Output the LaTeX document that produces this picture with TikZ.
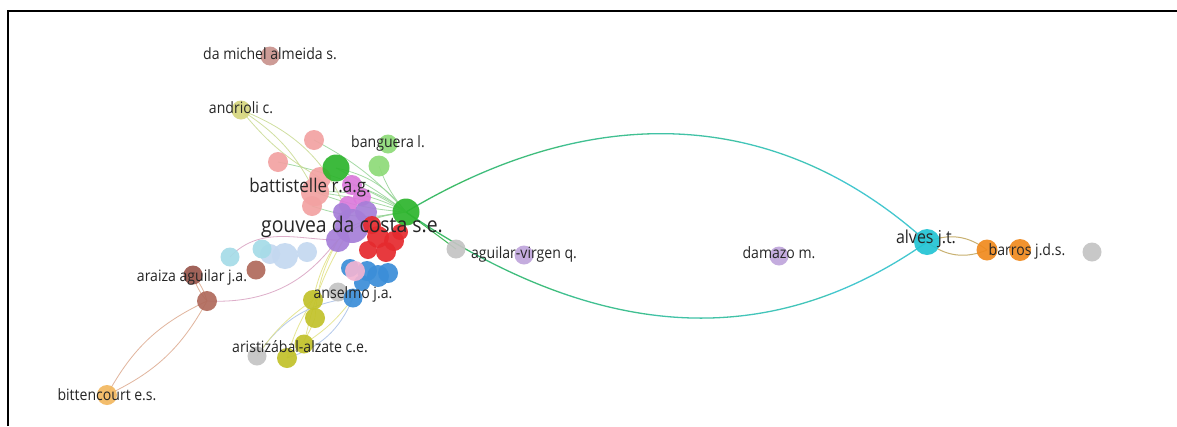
\documentclass[tikz,border=0pt]{standalone}
\usepackage{fontspec}
\setmainfont{Open Sans}
\begin{document}
\begin{tikzpicture}[x=1pt,y=-1pt]
\definecolor{cDM}{HTML}{C9938E}
\definecolor{cAN}{HTML}{D6D67E}
\definecolor{cPK}{HTML}{F2A2A2}
\definecolor{cGL}{HTML}{8EDB78}
\definecolor{cGD}{HTML}{2DB52D}
\definecolor{cMG}{HTML}{DC7ADC}
\definecolor{cPU}{HTML}{A67ED8}
\definecolor{cRD}{HTML}{E52A2E}
\definecolor{cLB}{HTML}{C4D8F0}
\definecolor{cCL}{HTML}{A6DCE8}
\definecolor{cBR}{HTML}{B06A5C}
\definecolor{cBD}{HTML}{9A564C}
\definecolor{cBL}{HTML}{3B8ED8}
\definecolor{cLP}{HTML}{F2B4D2}
\definecolor{cGY}{HTML}{C4C4C4}
\definecolor{cYE}{HTML}{C2C22A}
\definecolor{cOL}{HTML}{F2B860}
\definecolor{cCY}{HTML}{22C4D4}
\definecolor{cOR}{HTML}{F08A1E}
\definecolor{cLV}{HTML}{C0A6DC}
\definecolor{eG}{HTML}{3CB854}
\definecolor{eC}{HTML}{44C8D4}
\definecolor{eLG}{HTML}{96D496}
\definecolor{eYG}{HTML}{C8DA90}
\definecolor{eBO}{HTML}{DCA88C}
\definecolor{ePK}{HTML}{D8A0C0}
\definecolor{eYE}{HTML}{E2E282}
\definecolor{eBL}{HTML}{A8C0E8}
\definecolor{eBA}{HTML}{C8B070}
\tikzset{
  ball/.style 2 args={circle,inner sep=0pt,minimum size=#1,fill=#2,fill opacity=0.92},
  lbl/.style={font=\fontsize{14.5}{15}\selectfont,text=black!85,inner sep=0pt,xscale=0.97,yscale=1.08},
  edge/.style={line width=0.8pt,draw=eLG,opacity=0.85},
}
\useasboundingbox (0,0) rectangle (1177,426);
\fill[white] (0,0) rectangle (1177,426);
\draw[line width=2pt,black] (8,426) -- (8,11) -- (1177,11);

% ---- nodes (positions) ----
\coordinate (Pdma) at (270,56);
\coordinate (Pand) at (241,110);
\coordinate (Ppk1) at (314,140);
\coordinate (Ppk2) at (278,162);
\coordinate (Pban) at (388,144);
\coordinate (Pgl2) at (379,166);
\coordinate (Pgd1) at (336,168);
\coordinate (Ppk4) at (320,178);
\coordinate (Ppk3) at (315,192);
\coordinate (Ppk5) at (312,206);
\coordinate (Pmg1) at (352,185);
\coordinate (Pmg2) at (348,205);
\coordinate (Pmg3) at (362,197);
\coordinate (Pgd2) at (406,212);
\coordinate (Ppu1) at (352,226);
\coordinate (Ppu2) at (338,240);
\coordinate (Ppu3) at (366,212);
\coordinate (Ppu4) at (342,212);
\coordinate (Pgy3) at (456,249);
\coordinate (Palv) at (927,242);

% ---- edges ----
\begin{scope}
\foreach \i/\a/\b in {0/0/380,1/380/470,2/470/560,3/560/650,4/650/740,5/740/830,6/830/1177}{
  \pgfmathsetmacro{\mix}{100-\i*16}
  \begin{scope}
    \clip (\a,0) rectangle (\b,426);
    \draw[line width=1.3pt,draw=eG!\mix!eC] (Pgd2) .. controls (588,103) and (773,103) .. (Palv);
    \draw[line width=1.3pt,draw=eG!\mix!eC] (Pgd2) .. controls (606,348) and (776,348) .. (Palv);
  \end{scope}
}
\end{scope}
\draw[line width=1pt,draw=eG] (Pgd2) -- (Pgy3);

\draw[edge] (Pgd1) to[bend left=20] (Pgd2);
\draw[edge] (Pgd1) to[bend left=5] (Pgd2);
\draw[edge] (Ppk3) to[bend left=15] (Pgd2);
\draw[edge] (Ppk3) to[bend left=5] (Pgd2);
\draw[edge] (Ppk3) to[bend right=8] (Pgd2);
\draw[edge] (Ppk5) to[bend right=15] (Pgd2);
\draw[edge] (Ppk2) to[bend left=10] (Pgd2);
\draw[edge] (Ppk1) to[bend left=10] (Pgd2);
\draw[edge] (Pgl2) to[bend right=10] (Pgd2);
\draw[edge] (Pmg1) to[bend left=10] (Pgd2);
\draw[edge] (Ppu1) to[bend left=8] (Pgd2);
\draw[edge] (Ppu2) to[bend left=15] (Pgd2);
\draw[edge,draw=eYG] (Pand) to[bend left=15] (Ppk3);
\draw[edge,draw=eYG] (Pand) to[bend left=25] (Ppu1);
\draw[edge,draw=eYG] (Pand) to[bend right=10] (Ppk4);

\coordinate (Par1) at (193,275);
\coordinate (Par2) at (207,301);
\coordinate (Pbit) at (107,395);
\coordinate (Pcl1) at (230,257);
\coordinate (Py1) at (313,300);
\coordinate (Py2) at (315,318);
\coordinate (Py3) at (304,344);
\coordinate (Py4) at (287,358);
\coordinate (Pgy2) at (257,356);
\coordinate (Pb6) at (353,298);
\coordinate (Pba1) at (987,250);

\draw[edge,draw=eBO] (Par2) to[bend right=18] (Pbit);
\draw[edge,draw=eBO] (Par2) to[bend left=18] (Pbit);
\draw[edge,draw=eBO] (Par1) to[bend left=12] (Par2);
\draw[edge,draw=eBO] (Par1) to[bend right=12] (Par2);
\draw[edge,draw=ePK] (Par2) .. controls (290,305) and (320,260) .. (Ppu2);
\draw[edge,draw=ePK] (Pcl1) .. controls (260,225) and (300,240) .. (Ppu2);
\draw[edge,draw=eYE] (Py1) to[bend left=10] (Ppu2);
\draw[edge,draw=eYE] (Py2) to[bend left=12] (Ppu2);
\draw[edge,draw=eYE] (Py3) to[bend left=10] (Ppu1);
\draw[edge,draw=eYE] (Py4) to[bend left=8] (Py1);
\draw[edge,draw=eYE] (Py4) to[bend right=15] (Py2);
\draw[edge,draw=eYE] (Py3) to[bend right=10] (Pb6);
\draw[edge,draw=eBL] (Pgy2) to[bend left=25] (Pb6);
\draw[edge,draw=eBL] (Py4) to[bend right=25] (Pb6);
\draw[edge,draw=eYE] (Pgy2) to[bend left=10] (Py1);
\draw[line width=1pt,draw=eBA] (Palv) to[bend left=30] (Pba1);
\draw[line width=1pt,draw=eBA] (Palv) to[bend right=30] (Pba1);

% ---- balls ----
\node[ball={19pt}{cDM}] (dma) at (Pdma) {};
\node[ball={19pt}{cAN}] (and) at (Pand) {};
\node[ball={20pt}{cPK}] (pk1) at (Ppk1) {};
\node[ball={20pt}{cPK}] (pk2) at (Ppk2) {};
\node[ball={19pt}{cGL}] (ban) at (Pban) {};
\node[ball={21pt}{cGL}] (gl2) at (Pgl2) {};
\node[ball={22pt}{cPK}] (pk4) at (Ppk4) {};
\node[ball={28pt}{cPK}] (pk3) at (Ppk3) {};
\node[ball={20pt}{cPK}] (pk5) at (Ppk5) {};
\node[ball={27pt}{cGD}] (gd1) at (Pgd1) {};
\node[ball={20pt}{cMG}] (mg1) at (Pmg1) {};
\node[ball={18pt}{cMG}] (mg3) at (Pmg3) {};
\node[ball={18pt}{cMG}] (mg2) at (Pmg2) {};
\node[ball={22pt}{cPU}] (pu3) at (Ppu3) {};
\node[ball={18pt}{cPU}] (pu4) at (Ppu4) {};
\node[ball={26pt}{cLB}] (lb1) at (285,256) {};
\node[ball={20pt}{cLB}] (lb2) at (307,252) {};
\node[ball={20pt}{cLB}] (lb3) at (270,254) {};
\node[ball={19pt}{cCL}] (cl1) at (Pcl1) {};
\node[ball={19pt}{cCL}] (cl2) at (262,249) {};
\node[ball={19pt}{cBR}] (br1) at (256,270) {};
\node[ball={18pt}{cBL}] (b1) at (350,268) {};
\node[ball={20pt}{cBL}] (b2) at (367,271) {};
\node[ball={22pt}{cBL}] (b3) at (378,276) {};
\node[ball={20pt}{cBL}] (b4) at (388,273) {};
\node[ball={16pt}{cBL}] (b5) at (362,283) {};
\node[ball={20pt}{cLP}] (lp1) at (355,271) {};
\node[ball={24pt}{cPU}] (pu2) at (Ppu2) {};
\node[ball={34pt}{cPU}] (pu1) at (Ppu1) {};
\node[ball={18pt}{cRD}] (r6) at (372,225) {};
\node[ball={16pt}{cRD}] (r5) at (400,232) {};
\node[ball={22pt}{cRD}] (r1) at (378,237) {};
\node[ball={20pt}{cRD}] (r2) at (394,241) {};
\node[ball={18pt}{cRD}] (r4) at (368,250) {};
\node[ball={20pt}{cRD}] (r3) at (386,252) {};
\node[ball={27pt}{cGD}] (gd2) at (Pgd2) {};
\node[ball={19pt}{cGY}] (gy1) at (338,292) {};
\node[ball={19pt}{cBL}] (b6) at (Pb6) {};
\node[ball={20pt}{cYE}] (y1) at (Py1) {};
\node[ball={20pt}{cYE}] (y2) at (Py2) {};
\node[ball={19pt}{cYE}] (y3) at (Py3) {};
\node[ball={19pt}{cGY}] (gy2) at (Pgy2) {};
\node[ball={20pt}{cYE}] (y4) at (Py4) {};
\node[ball={19pt}{cBD}] (ar1) at (Par1) {};
\node[ball={20pt}{cBR}] (ar2) at (Par2) {};
\node[ball={20pt}{cOL}] (bit) at (Pbit) {};
\node[ball={19pt}{cGY}] (gy3) at (Pgy3) {};
\node[ball={19pt}{cLV}] (avq) at (524,255) {};
\node[ball={19pt}{cLV}] (dam) at (779,256) {};
\node[ball={26pt}{cCY}] (alv) at (Palv) {};
\node[ball={21pt}{cOR}] (ba1) at (Pba1) {};
\node[ball={22pt}{cOR}] (ba2) at (1020,250) {};
\node[ball={19pt}{cGY}] (gy4) at (1092,252) {};

% ---- labels ----
\node[lbl] (Ldma) at (270,54) {da michel almeida s.};
\node[lbl] (Land) at (241,108) {andrioli c.};
\node[lbl] (Lban) at (388,143) {banguera l.};
\node[lbl,font=\fontsize{17.5}{18}\selectfont] (Lbat) at (310,188) {battistelle r.a.g.};
\node[lbl,font=\fontsize{20}{21}\selectfont] (Lgou) at (352,227) {gouvea da costa s.e.};
\node[lbl] (Lara) at (192,277) {araiza aguilar j.a.};
\node[lbl] (Lans) at (353,294) {anselmo j.a.};
\node[lbl] (Lari) at (300,347) {aristizábal-alzate c.e.};
\node[lbl] (Lbit) at (107,395) {bittencourt e.s.};
\node[lbl] (Lavq) at (524,254) {aguilar-virgen q.};
\node[lbl] (Ldam) at (779,253) {damazo m.};
\node[lbl,font=\fontsize{16.5}{17}\selectfont] (Lalv) at (926,239) {alves j.t.};
\node[lbl] (Lbar) at (1027,251) {barros j.d.s.};
\end{tikzpicture}
\end{document}
